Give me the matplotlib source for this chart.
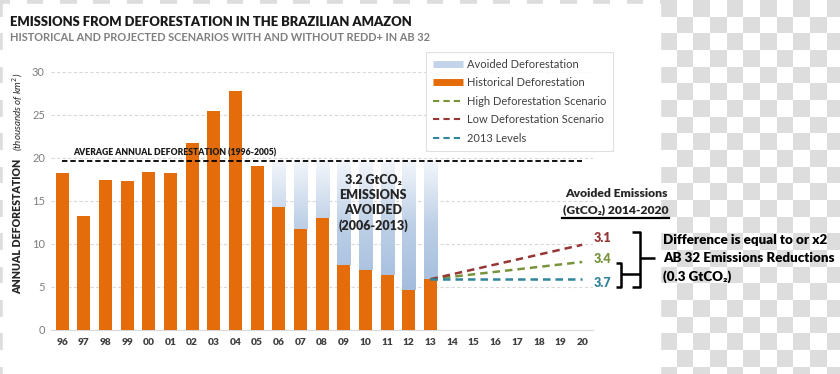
import numpy as np
import matplotlib
matplotlib.use("Agg")
import matplotlib.pyplot as plt
from matplotlib.lines import Line2D
from matplotlib.patches import Rectangle
from matplotlib.colors import ListedColormap, to_rgb

plt.rcParams['font.family'] = ['Lato', 'DejaVu Sans']

# ---- data (thousands of km2 per year) ----
years = ['96', '97', '98', '99', '00', '01', '02', '03', '04', '05', '06', '07',
         '08', '09', '10', '11', '12', '13', '14', '15', '16', '17', '18', '19', '20']
historical = [18.2, 13.2, 17.4, 17.3, 18.3, 18.2, 21.7, 25.4, 27.8, 19.0,
              14.3, 11.7, 13.0, 7.5, 7.0, 6.4, 4.6, 5.9]
avg_1996_2005 = 19.6
avoided_from = '06'          # avoided deforestation shown 2006-2013
proj_years = ['13', '20']
high_scn = [5.9, 7.9]
low_scn = [5.9, 9.9]
level_2013 = [5.9, 5.9]
avoided_emis = ['3.1', '3.4', '3.7']   # low, high, 2013 levels

ORANGE = '#e46c0a'
GREEN = '#77933c'
DKRED = '#953735'
TEAL = '#31859c'
DARK = '#262626'
GREY = '#7f7f7f'

W, H = 840, 374
fig = plt.figure(figsize=(W / 100, H / 100), dpi=100)

# background: transparency checkerboard showing around the chart
bg = fig.add_axes([0, 0, 1, 1], zorder=0)
bg.set_xlim(0, W)
bg.set_ylim(H, 0)
bg.axis('off')
cell = 16.67
cols = np.arange(-40, 12)
rows = np.arange(0, 24)
xs = 660 + cell * np.append(cols, cols[-1] + 1)
ys = cell * np.append(rows, rows[-1] + 1)
Z = (rows[:, None] + cols[None, :]) % 2
bg.pcolormesh(xs, ys, Z, cmap=ListedColormap(['#dddddd', '#ffffff']), zorder=0)
bg.add_patch(Rectangle((3, 4), 657, 370, color='white', zorder=1))

# ---- main axes ----
ax = fig.add_axes([51.2 / W, 1 - 330 / H, (593 - 51.2) / W, (330 - 71.7) / H], zorder=1)
ax.set_facecolor('none')
x = np.arange(len(years))
xh = x[:len(historical)]

ax.bar(xh, historical, width=0.6, color=ORANGE, zorder=3)

# avoided deforestation: from historical up to the 1996-2005 average, faded blue
i0 = years.index(avoided_from)
hist_arr = np.array(historical)
av_bottom = hist_arr[i0:]
av_height = avg_1996_2005 - av_bottom
av_bars = ax.bar(xh[i0:], av_height, bottom=av_bottom, width=0.6, color='none', zorder=2)
stops_y = [0, 5, 12, avg_1996_2005]
stops_c = np.array([to_rgb('#9fb8db'), to_rgb('#a6bede'), to_rgb('#bccfe6'), to_rgb('#f3f6fb')])
for b in av_bars:
    y0, y1 = b.get_y(), b.get_y() + b.get_height()
    yy = np.linspace(y1, y0, 100)
    grad = np.stack([np.interp(yy, stops_y, stops_c[:, k]) for k in range(3)], axis=-1)[:, None, :]
    ax.imshow(grad, extent=[b.get_x(), b.get_x() + b.get_width(), y0, y1],
              aspect='auto', zorder=2, interpolation='bilinear')

ax.plot([x[0], x[-1]], [avg_1996_2005] * 2, color='black', ls=(0, (3, 1.6)), lw=1.3, zorder=4)
ax.text(5.2, 20.05, 'AVERAGE ANNUAL DEFORESTATION (1996-2005)', ha='center', va='bottom',
        fontsize=6.2, fontweight='heavy', color='#1a1a1a', zorder=5)

px = [years.index(p) for p in proj_years]
ax.plot(px, high_scn, color=GREEN, ls=(0, (3, 2)), lw=1.8, zorder=4)
ax.plot(px, low_scn, color=DKRED, ls=(0, (3, 2)), lw=1.8, zorder=4)
ax.plot(px, level_2013, color=TEAL, ls=(0, (3, 2)), lw=1.8, zorder=4)

for lbl, col, yv in zip(avoided_emis, [DKRED, GREEN, TEAL], [10.7, 8.25, 5.45]):
    ax.text(24.55, yv, lbl, color=col, fontsize=9, fontweight='heavy', va='center',
            clip_on=False)

ax.text(14.35, 14.75, '3.2 GtCO\u2082\nEMISSIONS\nAVOIDED\n(2006-2013)', ha='center',
        va='center', fontsize=9, fontweight='heavy', color=DARK, linespacing=1.3, zorder=5)

ax.set_xlim(-0.5, len(years) - 0.5)
ax.set_ylim(0, 30)
ax.set_yticks(range(0, 31, 5))
ax.set_xticks(x, years)
for s in ['top', 'right', 'left']:
    ax.spines[s].set_visible(False)
ax.spines['bottom'].set_color('#d9d9d9')
ax.grid(axis='y', color='#d9d9d9', ls=(0, (3, 2)), lw=0.8)
ax.set_axisbelow(True)
ax.tick_params(axis='y', length=0, pad=4.5, labelsize=8, labelcolor=GREY)
ax.tick_params(axis='x', length=0, pad=6, labelsize=7.3, labelcolor='#404040')
for t in ax.get_xticklabels():
    t.set_fontweight('heavy')

# legend
handles = [
    Line2D([], [], color='#c3d4ea', lw=5, solid_capstyle='butt'),
    Line2D([], [], color=ORANGE, lw=5, solid_capstyle='butt'),
    Line2D([], [], color=GREEN, ls=(0, (3, 2)), lw=1.5),
    Line2D([], [], color=DKRED, ls=(0, (3, 2)), lw=1.5),
    Line2D([], [], color=TEAL, ls=(0, (3, 2)), lw=1.5),
]
labels = ['Avoided Deforestation', 'Historical Deforestation', 'High Deforestation Scenario',
          'Low Deforestation Scenario', '2013 Levels']
leg = fig.legend(handles, labels, loc='upper left', bbox_to_anchor=(426 / W, 1 - 52 / H),
                 frameon=True, fancybox=False, edgecolor='#d9d9d9', fontsize=8,
                 borderaxespad=0, handlelength=2.7, handletextpad=0.4, labelspacing=0.68,
                 borderpad=0.6)
leg.get_frame().set_linewidth(0.8)
for t in leg.get_texts():
    t.set_color('#404040')

# titles and axis label
fig.text(10 / W, 1 - 26 / H, 'EMISSIONS FROM DEFORESTATION IN THE BRAZILIAN AMAZON',
         fontsize=9.4, fontweight='heavy', color='#1a1a1a', va='baseline')
fig.text(10 / W, 1 - 40.7 / H, 'HISTORICAL AND PROJECTED SCENARIOS WITH AND WITHOUT REDD+ IN AB 32',
         fontsize=7.9, fontweight='bold', color=GREY, va='baseline')
fig.text(18 / W, 1 - 226 / H, 'ANNUAL DEFORESTATION', rotation=90, ha='center', va='center',
         fontsize=7.7, fontweight='heavy', color=DARK)
fig.text(18 / W, 1 - 112 / H, '(thousands of km$^2$)', rotation=90, ha='center', va='center',
         fontsize=7, style='italic', color=DARK)

# right-hand annotation (pixel coordinates on background layer)
bg.text(616, 193, 'Avoided Emissions', ha='center', va='center', fontsize=8.7,
        fontweight='heavy', color=DARK, zorder=3)
bg.text(616, 209.5, '(GtCO\u2082) 2014-2020', ha='center', va='center', fontsize=8.7,
        fontweight='heavy', color=DARK, zorder=3)
bg.plot([562, 669], [218, 218], color='black', lw=1.6, zorder=3)
for ty, txt in zip([240, 258.5, 277], ['Difference is equal to or x2',
                                      'AB 32 Emissions Reductions', '(0.3 GtCO\u2082)']):
    bg.text(663, ty, txt, va='center', fontsize=9.6, fontweight='heavy',
            color='black', zorder=3)
bk = dict(color='black', lw=1.8, zorder=3, solid_capstyle='butt')
bg.plot([632, 640, 640, 632], [232, 232, 287, 287], **bk)
bg.plot([640, 655], [258, 258], **bk)
bg.plot([616, 621, 621, 616], [263, 263, 287, 287], **bk)
bg.plot([621, 640], [274, 274], **bk)

fig.savefig('out.png', dpi=100)
